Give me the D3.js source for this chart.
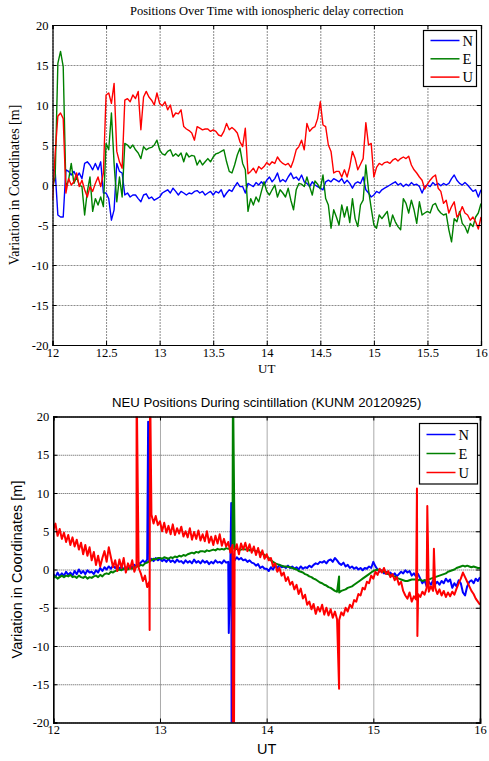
<!DOCTYPE html>
<html>
<head>
<meta charset="utf-8">
<script src="https://cdn.jsdelivr.net/npm/d3@7"></script>
<style>
  body { margin: 0; background: #fff; }
</style>
</head>
<body>
<script>
// top panel: samples every 0.025 h from 12 UT
var topN = [
  1.9, 1.7, -3.75, -4, -4, 1.9, 1.7, 1.25, 1.7, 1.0,
  1.5, 0.8, 2.7, 2.9, 2.5, 1.9, 2.7, 1.9, 2.9, -1.0,
  -1.0, -1.7, -4.4, -3.1, 2.7, 1.7, 1.5, -1.25, -1.0, -1.5,
  -1.25, -1.25, -1.7, -2.1, -1.25, -1.1, -1.7, -1.5, -1.9, -1.7,
  -1.5, -1.0, -0.8, -0.6, -1.0, -0.4, -0.8, -1.25, -0.8, -1.0,
  -1.25, -1.0, -1.1, -0.8, -0.7, -1.0, -0.8, -1.25, -1.0, -0.8,
  -1.25, -0.8, -1.0, -0.6, -1.5, -1.0, -0.6, -0.8, -0.2, 0.3,
  -0.2, -0.2, -1.0, 0.2, 0, -0.2, 0.3, 0, 0.4, 0,
  0.6, 1.0, 0.4, 0.8, 1.5, 0.4, 0.7, 0.4, 1.0, 1.5,
  0.8, 1.0, 0.6, 1.25, 0.4, 0.2, -0.2, 0.4, 0, -0.2,
  -0.4, -0.6, 0.4, 0.6, 0.4, 0.8, 0.6, 0.4, 0.8, 0.2,
  0.6, 0.2, -0.4, 0.2, 0.4, 0.2, 1.0, -0.6, -1.0, -1.5,
  -1.25, -0.8, -1.0, -0.6, -0.4, -0.2, 0, 0.2, 0.4, 0,
  0.2, -0.2, 0.1, -0.1, 0.3, 0, 0.1, -0.2, -1.0, -0.2,
  0, -0.2, 0.3, 0, 0.2, -0.1, 0.2, 0, 0.2, 0.8,
  1.25, 0.6, 0.2, 0, 0.3, 0, -0.4, -0.8, -0.6, -1.5,
  -0.6
];
var topE = [
  -0.3, 1.0, 15.2, 16.7, 14.8, -0.2, 0.6, 2.7, 0.2, 1.0,
  0, -0.2, -3.75, -0.8, 1.0, -3.3, -1.7, -2.5, -1.5, -2.7,
  5.2, 4.4, 9.0, 2.7, -2.1, 1.0, -1.5, 5.2, 5.0, 4.6,
  5.0, 4.4, 4.0, 3.3, 4.8, 4.4, 4.6, 4.7, 5.0, 5.6,
  4.4, 3.9, 3.75, 4.2, 4.4, 3.6, 3.9, 3.6, 4.0, 2.9,
  4.0, 3.5, 3.7, 3.6, 2.5, 3.1, 2.5, 2.9, 3.3, 2.9,
  3.5, 3.9, 4.0, 4.2, 4.4, 2.9, 1.7, 1.5, 2.5, 3.75,
  4.6, 2.7, 1.9, -3.3, -1.7, -2.5, -1.5, -2.1, -0.8, 0.4,
  -0.8, -1.25, -0.6, 0, -1.5, -0.6, -1.0, -1.5, -0.4, -1.9,
  -3.1, -0.6, 0.2, 0.1, -0.2, 1.0, -0.2, -1.25, 0.5, 0.1,
  -0.5, 1.25, -1.7, -2.5, -5.4, -3.1, -4.0, -5.0, -2.5, -4.0,
  -2.7, -4.7, -1.7, -4.2, -5.2, -2.5, -1.9, 2.5, -0.6, -2.9,
  -5.0, -5.4, -3.75, -4.2, -3.75, -3.3, -5.2, -3.75, -4.6, -5.2,
  -5.6, -1.7, -2.3, -3.5, -1.9, -3.1, -4.8, -2.1, -3.75, -3.5,
  -3.3, -3.5, -2.5, -2.3, -3.1, -3.5, -3.75, -3.6, -5.6, -7.1,
  -4.2, -4.6, -3.3, -4.8, -5.2, -6.0, -4.8, -5.2, -4.0, -3.5,
  -2.3
];
var topU = [
  -1.9, 4.0, 8.6, 9.0, 8.3, -1.0, 0.8, 0, 0.4, 1.5,
  -0.2, 0.6, -0.6, -1.5, -0.2, -0.8, 0.2, 1.0, -0.2, 1.5,
  11.25, 11.5, 10.2, 12.7, 4.2, 2.9, 2.1, 10.6, 10.8, 10.4,
  11.25, 10.8, 11.7, 6.9, 11.0, 11.7, 11.0, 10.6, 10.0, 11.5,
  10.2, 9.9, 10.4, 9.4, 10.0, 8.5, 9.0, 8.9, 9.4, 7.3,
  7.0, 6.8, 6.5, 5.6, 7.3, 7.1, 6.9, 7.0, 7.0, 6.7,
  6.9, 6.7, 6.25, 6.1, 6.7, 7.7, 6.9, 7.2, 6.9, 6.5,
  5.4, 4.8, 7.1, 1.4, 1.7, 2.1, 1.5, 2.3, 2.0, 2.3,
  2.8, 2.5, 2.9, 2.7, 3.5, 3.0, 2.7, 2.5, 2.7, 2.2,
  3.1, 4.4, 4.8, 5.6, 4.4, 7.7, 6.7, 7.1, 7.3, 8.3,
  10.4, 7.5, 7.3, 5.0, 4.2, 1.5, 1.7, 1.7, 1.0, 1.9,
  1.0, 2.3, 4.2, 3.3, 1.9, 2.6, 3.3, 7.8, 5.0, 5.2,
  1.0, 2.2, 2.7, 2.5, 2.8, 2.9, 2.7, 3.1, 3.3, 3.0,
  3.3, 3.5, 3.3, 3.6, 2.5, 1.9, 1.5, 1.0, 0.6, -0.5,
  0.1, 0.6, 1.0, 1.25, -0.4, -0.8, -2.3, -1.9, -3.5, -2.7,
  -2.1, -4.0, -3.6, -2.7, -3.5, -3.75, -4.4, -4.0, -4.6, -5.5,
  -4.0
];

// bottom panel: samples every 0.02 h from 12 UT
var botN = [
  -0.6, -1.0, -0.4, -0.9, -0.5, -0.8, -0.3, -0.7, -0.4, -0.8,
  -0.2, -0.6, 0.0, -0.5, -0.2, -0.6, -0.1, -0.4, -0.3, -0.6,
  -0.1, -0.4, 0.2, -0.2, 0.3, 0.0, 0.4, 0.1, 0.5, 0.2,
  0.5, 0.1, 0.4, 0.0, 0.3, 0.1, 0.4, 0.3, 0.6, 0.4,
  0.7, 0.9, 1.2, 0.9, 1.3, 1.0, 1.4, 1.1, 1.5, 1.2,
  1.4, 1.1, 1.3, 1.0, 1.4, 1.0, 1.2, 0.9, 1.3, 1.0,
  1.1, 0.8, 1.2, 0.9, 1.1, 0.8, 1.3, 0.9, 1.1, 0.8,
  1.2, 0.9, 1.1, 0.7, 1.0, 0.8, 1.2, 0.9, 1.0, 0.8,
  1.2, 0.9, 1.0, 1.2, 1.5, 1.2, 1.6, 1.3, 1.5, 1.2,
  1.3, 1.0, 1.2, 0.9, 0.8, 0.5, 0.7, 0.2, 0.4, 0.1,
  0.1, -0.2, 0.3, 0.0, 0.5, 0.2, 0.6, 0.3, 0.4, 0.2,
  0.5, 0.2, 0.4, 0.1, 0.3, 0.0, 0.4, 0.1, 0.3, 0.2,
  0.5, 0.3, 0.6, 0.8, 0.7, 1.0, 0.9, 1.1, 0.8, 1.2,
  1.3, 1.0, 1.5, 1.2, 0.8, 0.6, 0.9, 0.4, 0.6, 0.2,
  0.4, 0.1, 0.3, 0.0, 0.2, -0.1, 0.2, 0.1, 0.4, 0.2,
  1.0, 0.4, 0.0, -0.3, -0.1, -0.5, -0.3, -0.6, -0.4, -0.8,
  -0.5, -0.9, -0.6, -0.3, -0.5, -0.1, -0.4, -0.2, -0.8, -0.5,
  -0.9, -0.6, -1.2, -1.8, -1.4, -2.2, -1.6, -2.0, -1.4, -1.9,
  -1.6, -2.0, -1.5, -1.8, -1.2, -1.6, -1.3, -2.4, -1.8, -2.2,
  -1.4, -1.8, -3.0, -3.4, -2.2, -1.6, -1.4, -1.8, -1.2, -1.5,
  -1.0
];
var botE = [
  -1.1, -0.9, -1.2, -1.0, -0.8, -1.0, -0.8, -0.9, -0.7, -1.0,
  -0.9, -1.1, -0.8, -1.0, -1.1, -0.9, -1.2, -1.0, -1.1, -0.9,
  -0.8, -1.0, -0.7, -0.9, -0.6, -0.5, -0.6, -0.3, -0.4, -0.2,
  -0.1, 0.0, -0.1, 0.1, 0.2, 0.0, 0.2, 0.1, 0.3, 0.4,
  0.4, 0.6, 0.5, 0.8, 0.9, 1.1, 1.2, 1.4, 1.3, 1.5,
  1.5, 1.4, 1.6, 1.5, 1.4, 1.6, 1.5, 1.7, 1.6, 1.8,
  1.7, 1.9, 1.8, 2.0, 2.1, 2.2, 2.1, 2.3, 2.2, 2.4,
  2.4, 2.3, 2.5, 2.4, 2.5, 2.6, 2.5, 2.7, 2.6, 2.7,
  2.6, 2.8, 2.7, 2.8, 2.7, 2.6, 2.7, 2.5, 2.6, 2.7,
  2.6, 2.7, 2.5, 2.6, 2.5, 2.4, 2.4, 2.2, 2.1, 1.9,
  1.7, 1.5, 1.2, 1.0, 0.8, 0.7, 0.6, 0.5, 0.4, 0.4,
  0.35, 0.3, 0.2, 0.1, 0.0, -0.2, -0.3, -0.4, -0.6, -0.7,
  -0.9, -1.0, -1.2, -1.3, -1.5, -1.7, -1.8, -2.0, -2.1, -2.3,
  -2.4, -2.6, -2.8, -2.9, -3.0, -2.8, -2.7, -2.6, -2.4, -2.3,
  -2.2, -2.0, -1.8, -1.6, -1.4, -1.2, -1.0, -0.8, -0.6, -0.4,
  -0.2, -0.1, 0.0, -0.1, -0.2, -0.3, -0.4, -0.6, -0.7, -0.8,
  -0.9, -1.1, -1.2, -1.3, -1.4, -1.5, -1.5, -1.4, -1.3, -1.3,
  -1.3, -1.4, -1.3, -1.5, -1.4, -1.4, -1.3, -1.2, -1.1, -1.0,
  -0.9, -0.8, -0.7, -0.6, -0.5, -0.3, -0.2, -0.1, 0.0, 0.2,
  0.3, 0.4, 0.5, 0.4, 0.5, 0.4, 0.3, 0.4, 0.3, 0.2,
  0.2
];
var botU = [
  5.2, 6.0, 4.4, 5.3, 4.0, 4.8, 3.6, 4.5, 3.2, 4.2,
  3.0, 3.9, 2.6, 3.5, 2.0, 3.2, 1.8, 2.9, 1.2, 2.3,
  0.6, 1.8, 0.4, 1.5, 2.4, 1.0, 2.9, 1.6, 0.3, 1.2,
  -0.2, 1.3, 0.2, 1.5, -0.4, 0.8, 0.1, 1.2, -0.3, 0.5,
  0.2, -0.5, -1.5, -0.8, -2.3, -1.6, 7.2, 6.0, 7.0, 5.8,
  6.3, 5.0, 6.1, 4.8, 5.7, 4.6, 5.9, 4.5, 5.4, 4.7,
  5.6, 4.3, 5.0, 4.2, 5.4, 3.9, 4.9, 4.0, 5.1, 3.8,
  4.6, 3.7, 5.0, 3.5, 4.3, 3.2, 4.4, 3.4, 4.6, 3.1,
  4.0, 3.0, 3.6, 2.2, 3.2, 2.4, 3.3, 2.0, 3.4, 2.6,
  3.5, 2.4, 3.3, 2.2, 3.0, 1.9, 2.8, 1.6, 2.5, 1.4,
  2.0, 1.2, 1.5, 0.4, 0.8, -0.3, 0.2, -0.8, -0.4, -1.5,
  -1.0, -2.0, -1.6, -2.6, -2.0, -3.2, -2.5, -3.8, -3.3, -4.6,
  -4.2, -5.2, -4.5, -5.8, -4.9, -5.5, -4.6, -5.9, -5.0, -6.0,
  -5.2, -6.3, -5.5, -6.5, -6.6, -5.6, -6.0, -5.0, -5.5, -4.6,
  -5.0, -4.0, -4.2, -3.2, -3.4, -2.4, -2.6, -1.6, -1.8, -0.8,
  -1.2, -0.3, -0.7, 0.1, -0.4, 0.2, -0.6, -0.2, -1.0, -0.6,
  -1.4, -1.0, -2.0, -1.6, -2.8, -3.4, -3.8, -3.0, -4.2, -3.5,
  -3.9, -3.2, -3.6, -2.9, -3.3, -2.4, -2.9, -2.2, -2.8, -2.4,
  -3.2, -2.6, -3.4, -2.8, -3.6, -3.0, -3.5, -2.9, -3.3, -2.5,
  -1.8, -1.2, -0.4, -1.0, -1.6, -2.2, -2.8, -3.2, -3.8, -4.2,
  -4.6
];
// short spikes in the bottom panel, [UT, value]
var spikeN = [[12.889, 19.3], [13.645, -8.3], [13.668, 8.7], [13.672, -25]];
var spikeE = [[13.684, 25], [14.679, -0.9]];
var spikeU = [[12.781, 25], [12.903, -7.9], [12.907, 25], [13.683, -25], [13.688, 2], [13.693, -25],
  [14.679, -15.6], [15.409, 10.6], [15.413, -8.7], [15.506, 8.3], [15.568, 2.7]];

var yTicks = [-20, -15, -10, -5, 0, 5, 10, 15, 20];
var xTicksTop = [12, 12.5, 13, 13.5, 14, 14.5, 15, 15.5, 16];
var xTicksBot = [12, 13, 14, 15, 16];
var names = ["N", "E", "U"];
var colors = ["#0000ff", "#008000", "#ff0000"];

var serif = "'Liberation Serif', 'Times New Roman', serif";
var sans = "'Liberation Sans', Arial, sans-serif";

var width = 489;
var height = 761;
var svg = d3
  .select("body")
  .append("svg")
  .attr("width", width)
  .attr("height", height);

function toPoints(vals, step, spikes) {
  var pts = vals.map(function(v, i) {
    return [12 + i * step, v];
  });
  if (spikes) {
    spikes.forEach(function(s) {
      pts.push(s);
    });
    pts.sort(function(a, b) {
      return a[0] - b[0];
    });
  }
  return pts;
}

function panel(opt) {
  var x = d3.scaleLinear().domain([12, 16]).range([opt.left, opt.right]);
  var y = d3.scaleLinear().domain([-20, 20]).range([opt.bottom, opt.top]);
  var w = opt.right - opt.left;
  var h = opt.bottom - opt.top;
  var g = svg.append("g");

  // grid
  g.append("g")
    .attr("transform", "translate(0," + opt.bottom + ")")
    .call(d3.axisBottom(x).tickValues(opt.xTicks).tickSize(-h).tickFormat(""))
    .call(gridStyle);
  g.append("g")
    .attr("transform", "translate(" + opt.left + ",0)")
    .call(d3.axisLeft(y).tickValues(yTicks).tickSize(-w).tickFormat(""))
    .call(gridStyle);
  function gridStyle(sel) {
    sel.select(".domain").remove();
    sel.selectAll("line")
      .attr("stroke", opt.gridColor)
      .attr("stroke-width", 1)
      .attr("stroke-dasharray", opt.gridDash);
  }

  // data lines
  var clipId = "clip" + opt.id;
  svg.append("clipPath")
    .attr("id", clipId)
    .append("rect")
    .attr("x", opt.left)
    .attr("y", opt.top)
    .attr("width", w)
    .attr("height", h);
  var line = d3.line()
    .x(function(d) { return x(d[0]); })
    .y(function(d) { return y(d[1]); });
  opt.series.forEach(function(s, k) {
    g.append("path")
      .datum(s)
      .attr("clip-path", "url(#" + clipId + ")")
      .attr("fill", "none")
      .attr("stroke", colors[k])
      .attr("stroke-width", opt.lineWidth)
      .attr("stroke-linejoin", "round")
      .attr("d", line);
  });

  // axes, ticks inside on all sides
  var fmt = function(d) { return String(d); };
  var axB = g.append("g")
    .attr("transform", "translate(0," + opt.bottom + ")")
    .call(d3.axisBottom(x).tickValues(opt.xTicks).tickSize(-4).tickPadding(3).tickFormat(fmt));
  var axL = g.append("g")
    .attr("transform", "translate(" + opt.left + ",0)")
    .call(d3.axisLeft(y).tickValues(yTicks).tickSize(-4).tickPadding(4).tickFormat(fmt));
  var axT = g.append("g")
    .attr("transform", "translate(0," + opt.top + ")")
    .call(d3.axisTop(x).tickValues(opt.xTicks).tickSize(-4).tickFormat(""));
  var axR = g.append("g")
    .attr("transform", "translate(" + opt.right + ",0)")
    .call(d3.axisRight(y).tickValues(yTicks).tickSize(-4).tickFormat(""));
  [axB, axL, axT, axR].forEach(function(a) {
    a.attr("font-family", serif).attr("font-size", 12.5);
    a.selectAll(".domain").attr("stroke", "#000").attr("stroke-width", opt.boxWidth);
    a.selectAll("line").attr("stroke", "#000");
    a.selectAll("text").attr("fill", "#000");
  });

  // title and axis labels
  g.append("text")
    .attr("font-family", opt.labelFont)
    .attr("x", (opt.left + opt.right) / 2)
    .attr("y", opt.top - opt.titleGap)
    .attr("text-anchor", "middle")
    .attr("font-size", opt.titleSize)
    .text(opt.title);
  g.append("text")
    .attr("font-family", opt.labelFont)
    .attr("x", (opt.left + opt.right) / 2)
    .attr("y", opt.bottom + opt.xLabelGap)
    .attr("text-anchor", "middle")
    .attr("font-size", opt.labelSize)
    .text("UT");
  g.append("text")
    .attr("font-family", opt.labelFont)
    .attr("transform", "translate(" + opt.yLabelX + "," + (opt.top + opt.bottom) / 2 + ") rotate(-90)")
    .attr("text-anchor", "middle")
    .attr("font-size", opt.yLabelSize)
    .text("Variation in Coordinates [m]");

  // legend
  var lg = g.append("g").attr("transform", "translate(" + opt.legend[0] + "," + opt.legend[1] + ")");
  lg.append("rect")
    .attr("width", opt.legend[2])
    .attr("height", opt.legend[3])
    .attr("fill", "#fff")
    .attr("stroke", "#000")
    .attr("stroke-width", 1.2);
  names.forEach(function(n, k) {
    var yy = opt.legendRow0 + k * opt.legendStep;
    lg.append("line")
      .attr("x1", 7)
      .attr("x2", 36)
      .attr("y1", yy)
      .attr("y2", yy)
      .attr("stroke", colors[k])
      .attr("stroke-width", 1.5);
    lg.append("text")
      .attr("font-family", serif)
      .attr("x", 39)
      .attr("y", yy + 5)
      .attr("font-size", 14.5)
      .text(n);
  });
}

panel({
  id: "top",
  left: 52.5, right: 481, top: 25, bottom: 345,
  xTicks: xTicksTop,
  series: [toPoints(topN, 0.025), toPoints(topE, 0.025), toPoints(topU, 0.025)],
  lineWidth: 1.4,
  boxWidth: 1.2,
  gridColor: "#8c8c8c",
  gridDash: "2,1",
  title: "Positions Over Time with ionospheric delay correction",
  titleGap: 10,
  titleSize: 12.5,
  labelFont: serif,
  labelSize: 13,
  yLabelSize: 14,
  xLabelGap: 28,
  yLabelX: 19,
  legend: [423.5, 30.5, 53, 56],
  legendRow0: 10,
  legendStep: 18.3,
});

panel({
  id: "bot",
  left: 53.3, right: 480, top: 416.5, bottom: 722.5,
  xTicks: xTicksBot,
  series: [toPoints(botN, 0.02, spikeN), toPoints(botE, 0.02, spikeE), toPoints(botU, 0.02, spikeU)],
  lineWidth: 2,
  boxWidth: 1.6,
  gridColor: "#555",
  gridDash: "1,1",
  title: "NEU Positions During scintillation (KUNM 20120925)",
  titleGap: 10,
  titleSize: 13.2,
  labelFont: sans,
  labelSize: 14.5,
  yLabelSize: 14.5,
  xLabelGap: 31,
  yLabelX: 22,
  legend: [419.5, 423.5, 58, 60.5],
  legendRow0: 11,
  legendStep: 19,
});
</script>
</body>
</html>
